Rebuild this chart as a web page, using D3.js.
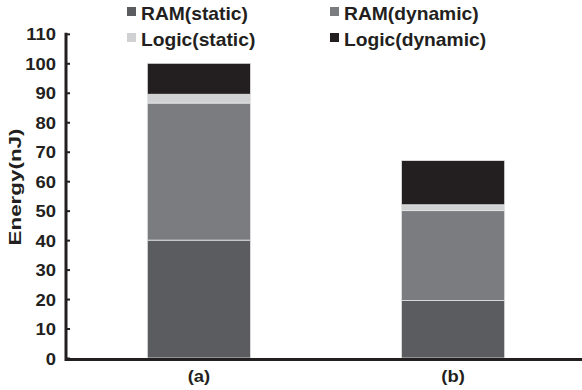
<!DOCTYPE html>
<html>
<head>
<meta charset="utf-8">
<script src="https://cdn.jsdelivr.net/npm/d3@7"></script>
<style>
  body { margin: 0; background: #fff; }
  text { font-family: "Liberation Sans", Arial, sans-serif; font-weight: bold; fill: #231f20; }
</style>
</head>
<body>
<svg id="chart" width="582" height="390"></svg>
<script>
const width = 582;
const height = 390;

const categories = ["(a)", "(b)"];
const seriesNames = ["RAM(static)", "RAM(dynamic)", "Logic(static)", "Logic(dynamic)"];
const ramStatic = [40, 19.5];
const ramDynamic = [46.5, 30.5];
const logicStatic = [3, 2];
const logicDynamic = [10.5, 15];
const yTicks = [0, 10, 20, 30, 40, 50, 60, 70, 80, 90, 100, 110];
const colors = ["#5b5c60", "#7b7c80", "#d0d1d3", "#231f20"];

const rows = categories.map((c, i) => ({
  cat: c,
  "RAM(static)": ramStatic[i],
  "RAM(dynamic)": ramDynamic[i],
  "Logic(static)": logicStatic[i],
  "Logic(dynamic)": logicDynamic[i]
}));

const svg = d3.select("#chart");
const stretch = 1.15;

const x = d3.scaleBand()
  .domain(categories)
  .range([66, 586])
  .paddingInner(0.594)
  .paddingOuter(0.32);

const y = d3.scaleLinear()
  .domain([0, 100])
  .range([358, 63.3]);

const color = d3.scaleOrdinal()
  .domain(seriesNames)
  .range(colors);

const stacked = d3.stack().keys(seriesNames)(rows);

// bars
svg.append("g")
  .selectAll("g")
  .data(stacked)
  .join("g")
  .attr("fill", d => color(d.key))
  .selectAll("rect")
  .data(d => d)
  .join("rect")
  .attr("x", d => x(d.data.cat))
  .attr("y", d => y(d[1]))
  .attr("width", x.bandwidth())
  .attr("height", d => y(d[0]) - y(d[1]))
  .attr("stroke", "#e4e4e4")
  .attr("stroke-width", 0.8);

// y axis
const yAxis = svg.append("g")
  .attr("transform", "translate(66,0)")
  .call(d3.axisLeft(y).tickValues(yTicks).tickSizeInner(-4).tickSizeOuter(0).tickPadding(11));

yAxis.select(".domain")
  .attr("stroke", "#231f20")
  .attr("stroke-width", 3)
  .attr("d", `M0,${y(110) - 1}V${y(0) + 3}`);
yAxis.selectAll(".tick line")
  .attr("stroke", "#231f20")
  .attr("stroke-width", 2);
yAxis.selectAll(".tick text")
  .attr("x", null)
  .attr("dy", null)
  .attr("y", 6)
  .attr("transform", `translate(-10,0) scale(${stretch},1)`)
  .style("font-size", "16px")
  .style("font-family", "'Liberation Sans', Arial, sans-serif")
  .style("font-weight", "bold")
  .attr("fill", "#231f20");

// x axis
const xAxis = svg.append("g")
  .attr("transform", `translate(0,${y(0) + 1.5})`)
  .call(d3.axisBottom(x).tickSize(0).tickPadding(0));

xAxis.select(".domain")
  .attr("stroke", "#231f20")
  .attr("stroke-width", 3)
  .attr("d", "M65,0H582");
xAxis.selectAll(".tick text")
  .attr("y", null)
  .attr("dy", null)
  .attr("transform", `translate(0,22) scale(${stretch},1)`)
  .style("font-size", "16px")
  .style("font-family", "'Liberation Sans', Arial, sans-serif")
  .style("font-weight", "bold")
  .attr("fill", "#231f20");

// y label
svg.append("text")
  .attr("transform", `translate(21,187) rotate(-90) scale(1.4,1)`)
  .attr("text-anchor", "middle")
  .style("font-size", "16px")
  .text("Energy(nJ)");

// legend
const legendPos = [
  { x: 127, y: 7 },
  { x: 330, y: 7 },
  { x: 127, y: 33 },
  { x: 330, y: 33 }
];

const legend = svg.append("g")
  .selectAll("g")
  .data(seriesNames)
  .join("g")
  .attr("transform", (d, i) => `translate(${legendPos[i].x},${legendPos[i].y})`);

legend.append("rect")
  .attr("width", 9)
  .attr("height", 9)
  .attr("fill", d => color(d));

legend.append("text")
  .attr("transform", `translate(14,12.5) scale(1.1,1)`)
  .style("font-size", "17.5px")
  .text(d => d);
</script>
</body>
</html>
